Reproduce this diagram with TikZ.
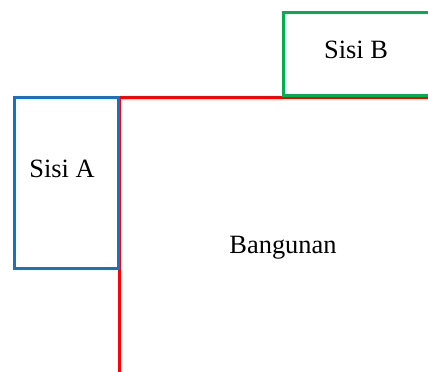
\documentclass[tikz,border=0pt]{standalone}
\usepackage{fontspec}
\setmainfont{Liberation Serif}
\begin{document}
\begin{tikzpicture}[x=0.5pt,y=-0.5pt,
  lbl/.style={inner sep=0pt,font=\fontsize{13.2}{15}\selectfont},
  boxA/.style={draw={rgb,255:red,23;green,114;blue,196},line width=1.5pt},
  boxB/.style={draw={rgb,255:red,0;green,176;blue,80},line width=1.5pt},
  wall/.style={draw={rgb,255:red,255;green,0;blue,0},line width=1.5pt}]
\useasboundingbox (0,0) rectangle (428,371);
\clip (0,0) rectangle (428,371);
\coordinate (corner) at (119,97.6);
\coordinate (wallE) at (440,97.6);
\coordinate (wallS) at (119,380);
\draw[wall] (wallE) -- (corner) -- (wallS);
\draw[boxB] (283,12.8) rectangle (440,95.3);
\draw[boxA] (14,97.3) rectangle (118.5,268);
\node[lbl] (sisiA) at (62,169) {Sisi A};
\node[lbl] (sisiB) at (356,49.5) {Sisi B};
\node[lbl] (bang) at (283,248) {Bangunan};
\end{tikzpicture}
\end{document}
